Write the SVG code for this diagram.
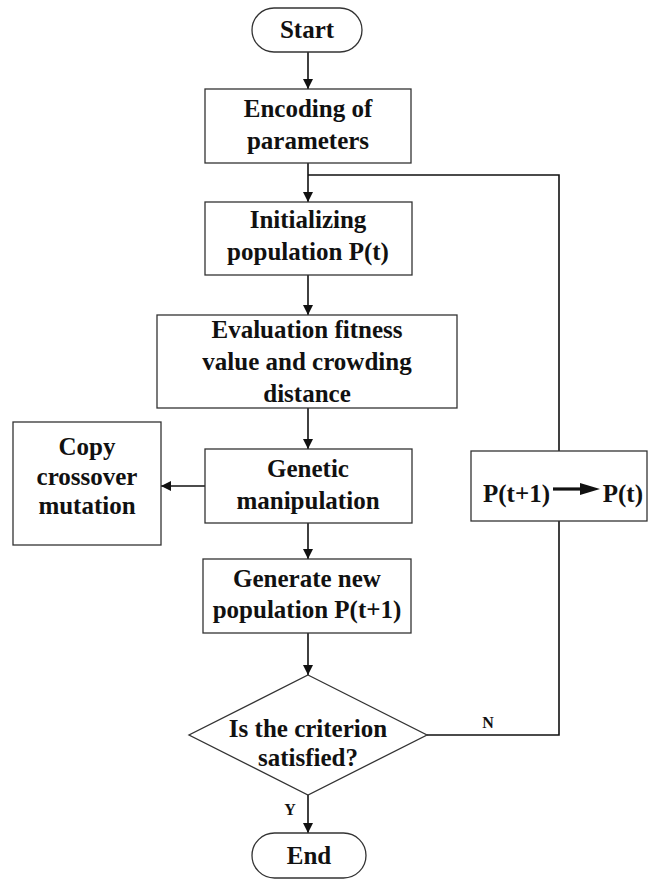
<svg xmlns="http://www.w3.org/2000/svg" width="649" height="880" viewBox="0 0 649 880">
<defs>
<style>
.box{fill:#fff;stroke:#333;stroke-width:1.3}
.t{font-family:"Liberation Serif","Times New Roman",serif;font-weight:bold;font-size:25px;fill:#111;text-anchor:middle}
.s{font-family:"Liberation Serif","Times New Roman",serif;font-weight:bold;font-size:16px;fill:#111;text-anchor:middle}
.c{fill:none;stroke:#111;stroke-width:1.6}
</style>
<marker id="ah" markerWidth="10" markerHeight="10" refX="10" refY="5" orient="auto" markerUnits="userSpaceOnUse">
<path d="M0,0 L10,5 L0,10 Z" fill="#111"/>
</marker>
</defs>
<rect width="649" height="880" fill="#fff"/>
<g id="connectors">
<path class="c" d="M308,52 V89" marker-end="url(#ah)"/>
<path class="c" d="M308,163 V202" marker-end="url(#ah)"/>
<path class="c" d="M308,275 V315" marker-end="url(#ah)"/>
<path class="c" d="M308,408 V449" marker-end="url(#ah)"/>
<path class="c" d="M205,486 H161" marker-end="url(#ah)"/>
<path class="c" d="M308,523 V559" marker-end="url(#ah)"/>
<path class="c" d="M308,633 V675" marker-end="url(#ah)"/>
<path class="c" d="M308,795 V833" marker-end="url(#ah)"/>
<path class="c" d="M427,735 H559 V521"/>
<path class="c" d="M559,451 V175 H308"/>
<text class="s" x="488" y="728">N</text>
<text class="s" x="290" y="815">Y</text>
</g>
<g id="start">
<rect class="box" x="252" y="8" width="110" height="44" rx="22"/>
<text class="t" x="307" y="38">Start</text>
</g>
<g id="encoding">
<rect class="box" x="205" y="89" width="206" height="74"/>
<text class="t" x="308" y="117">Encoding of</text>
<text class="t" x="308" y="149">parameters</text>
</g>
<g id="init">
<rect class="box" x="205" y="202" width="207" height="73"/>
<text class="t" x="308" y="228">Initializing</text>
<text class="t" x="308" y="260">population P(t)</text>
</g>
<g id="eval">
<rect class="box" x="157" y="315" width="300" height="93"/>
<text class="t" x="307" y="338">Evaluation fitness</text>
<text class="t" x="307" y="370">value and crowding</text>
<text class="t" x="307" y="402">distance</text>
</g>
<g id="genetic">
<rect class="box" x="205" y="449" width="207" height="74"/>
<text class="t" x="308" y="477">Genetic</text>
<text class="t" x="308" y="509">manipulation</text>
</g>
<g id="copy">
<rect class="box" x="13" y="422" width="148" height="123"/>
<text class="t" x="87" y="455">Copy</text>
<text class="t" x="87" y="485">crossover</text>
<text class="t" x="87" y="514">mutation</text>
</g>
<g id="generate">
<rect class="box" x="203" y="559" width="208" height="74"/>
<text class="t" x="307" y="587">Generate new</text>
<text class="t" x="307" y="618">population P(t+1)</text>
</g>
<g id="update">
<rect class="box" x="471" y="451" width="176" height="70"/>
<text class="t" x="483" y="502" style="text-anchor:start">P(t+1)</text>
<path d="M553,489 H582" stroke="#111" stroke-width="3.2" fill="none"/>
<path d="M580,483 L600,489 L580,495 Z" fill="#111"/>
<text class="t" x="643" y="502" style="text-anchor:end">P(t)</text>
</g>
<g id="decision">
<polygon class="box" points="308,675 427,735 308,795 189,735"/>
<text class="t" x="308" y="737">Is the criterion</text>
<text class="t" x="308" y="766">satisfied?</text>
</g>
<g id="end">
<rect class="box" x="252" y="833" width="114" height="45" rx="22.5"/>
<text class="t" x="309" y="864">End</text>
</g>
</svg>
